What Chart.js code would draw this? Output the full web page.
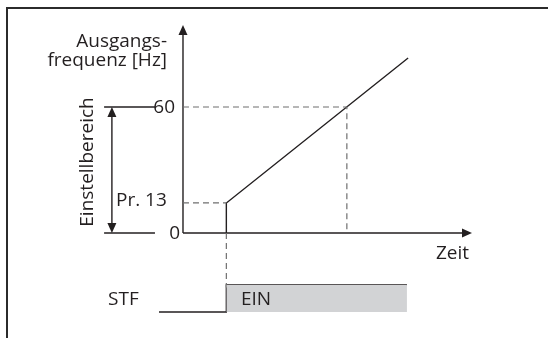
<!DOCTYPE html>
<html>
<head>
<meta charset="utf-8">
<script src="https://cdn.jsdelivr.net/npm/chart.js@4"></script>
<style>
  html, body { margin: 0; padding: 0; background: #fff; overflow: hidden; }
  #wrap { width: 548px; height: 338px; }
  canvas { display: block; }
</style>
</head>
<body>
<div id="wrap"><canvas id="chart" width="548" height="338"></canvas></div>
<script>
// output frequency over time (time in arbitrary units, frequency in Hz)
const outTime = [1.5, 1.5, 7.79];
const outFreq = [0, 14.3, 83.3];
// dashed guide to the 60 Hz point
const guide60Time = [0, 5.67, 5.67];
const guide60Freq = [60, 60, 0];
// dashed guide for Pr. 13 level
const guidePrTime = [0, 1.5];
const guidePrFreq = [14.3, 14.3];
// STF signal (0 = off, 1 = on)
const stfTime = [-0.83, 1.5, 1.5, 7.75];
const stfLevel = [0, 0, 1, 1];
// range reference lines on the left
const refTime = [-2.73, -0.97];
const yTicks = [0, 60];
const yTickLabels = ['0', '60'];
const prLevel = 14.3;

const INK = '#231f20';
const DASH = '#6f6f6f';
const FONT = '19px "Open Sans"';

function pts(xs, ys) { return xs.map((x, i) => ({ x, y: ys[i] })); }

function arrowHead(ctx, x, y, dir) {
  const L = 10, W = 4.5;
  ctx.beginPath();
  if (dir === 'up') { ctx.moveTo(x, y); ctx.lineTo(x - W, y + L); ctx.lineTo(x + W, y + L); }
  if (dir === 'down') { ctx.moveTo(x, y); ctx.lineTo(x - W, y - L); ctx.lineTo(x + W, y - L); }
  if (dir === 'right') { ctx.moveTo(x, y); ctx.lineTo(x - L, y - W); ctx.lineTo(x - L, y + W); }
  ctx.closePath();
  ctx.fill();
}

const decor = {
  id: 'decor',
  beforeDatasetsDraw(chart) {
    const { ctx, scales: { x, y } } = chart;
    ctx.save();
    // frame (left and top edges only)
    ctx.fillStyle = '#2b2b2b';
    ctx.fillRect(6, 7, 2, 331);
    ctx.fillRect(6, 7, 542, 2);

    // axes
    const x0 = x.getPixelForValue(0), y0 = y.getPixelForValue(0);
    ctx.strokeStyle = INK; ctx.fillStyle = INK; ctx.lineWidth = 1.4;
    ctx.beginPath();
    ctx.moveTo(x0, y0); ctx.lineTo(x0, 30);
    ctx.moveTo(x0, y0); ctx.lineTo(x.getPixelForValue(9.8), y0);
    ctx.stroke();
    arrowHead(ctx, x0, 25, 'up');
    arrowHead(ctx, x.getPixelForValue(10), y0, 'right');

    // Einstellbereich double arrow
    const ax = x.getPixelForValue(-2.46);
    const a60 = y.getPixelForValue(60);
    ctx.beginPath();
    ctx.moveTo(ax, a60 + 8); ctx.lineTo(ax, y0 - 8);
    ctx.stroke();
    arrowHead(ctx, ax, a60, 'up');
    arrowHead(ctx, ax, y0, 'down');
    ctx.restore();
  },
  afterDatasetsDraw(chart) {
    const { ctx, scales: { y, sig } } = chart;
    ctx.save();
    ctx.font = FONT;
    ctx.fillStyle = INK;
    ctx.textBaseline = 'alphabetic';
    ctx.textAlign = 'right';
    ctx.fillText('Ausgangs-', 167, 47);
    ctx.fillText('frequenz [Hz]', 167, 66);
    ctx.textBaseline = 'middle';
    yTicks.forEach((v, i) => {
      ctx.fillText(yTickLabels[i], v === 0 ? 180 : 175, y.getPixelForValue(v) + 1);
    });
    ctx.textAlign = 'left';
    ctx.fillText('Pr. 13', 116, y.getPixelForValue(prLevel) - 2);
    ctx.fillText('Zeit', 436, 254);
    ctx.fillText('STF', 108, sig.getPixelForValue(0.5) + 1);
    ctx.fillText('EIN', 241, sig.getPixelForValue(0.5) + 1);

    ctx.translate(88, 162);
    ctx.rotate(-Math.PI / 2);
    ctx.textAlign = 'center';
    ctx.fillText('Einstellbereich', 0, 0);
    ctx.restore();
  }
};

const line = (data, extra) => Object.assign({
  data, showLine: true, borderColor: INK, borderWidth: 1.4,
  pointRadius: 0, fill: false, tension: 0
}, extra);

new Chart(document.getElementById('chart'), {
  type: 'scatter',
  data: {
    datasets: [
      line(pts([stfTime[2], stfTime[3]], [1, 1]), {
        yAxisID: 'sig', borderWidth: 0, backgroundColor: '#d2d3d5', fill: { value: 0 }
      }),
      line(pts(guide60Time, guide60Freq), { borderColor: DASH, borderDash: [6, 4], borderWidth: 1.2 }),
      line(pts(guidePrTime, guidePrFreq), { borderColor: DASH, borderDash: [6, 4], borderWidth: 1.2 }),
      line(pts([1.5, 1.5], [0, -26]), { borderColor: DASH, borderDash: [6, 4], borderWidth: 1.2 }),
      line(pts(outTime, outFreq)),
      line(pts(refTime, [yTicks[1], yTicks[1]])),
      line(pts(refTime, [yTicks[0], yTicks[0]])),
      line(pts(stfTime, stfLevel), { yAxisID: 'sig' })
    ]
  },
  options: {
    responsive: false,
    animation: false,
    layout: { padding: 0 },
    plugins: { legend: { display: false }, tooltip: { enabled: false } },
    scales: {
      x: { type: 'linear', display: false, min: -6.332, max: 12.630 },
      y: { type: 'linear', display: false, min: -50, max: 110.952 },
      sig: { type: 'linear', display: false, min: -0.963, max: 11.556 }
    }
  },
  plugins: [decor]
});
</script>
</body>
</html>
